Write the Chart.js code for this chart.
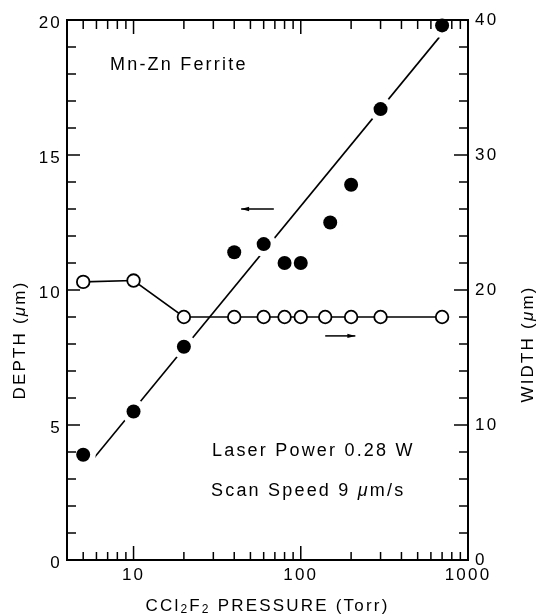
<!DOCTYPE html>
<html><head><meta charset="utf-8">
<script src="https://cdn.jsdelivr.net/npm/chart.js@4"></script>
<style>html,body{margin:0;padding:0;background:#fff}</style>
</head><body><canvas id="c" width="538" height="616"></canvas>
<script>
// ---- data ----
const pressureDepth = [5, 10, 20, 40, 60, 80, 100, 150, 200, 300, 700];
const depthValues   = [3.9, 5.5, 7.9, 11.4, 11.7, 11.0, 11.0, 12.5, 13.9, 16.7, 19.8];
const pressureWidth = [5, 10, 20, 40, 60, 80, 100, 140, 200, 300, 700];
const widthValues   = [20.6, 20.7, 18.0, 18.0, 18.0, 18.0, 18.0, 18.0, 18.0, 18.0, 18.0];
const fitPressure = [5.8, 690];
const fitDepth    = [3.78, 19.44];
const xTickLabels = [10, 100, 1000];
const xMinorTicks = [5,6,7,8,9,20,30,40,50,60,70,80,90,200,300,400,500,600,700,800,900];
const depthMajorTicks = [0,5,10,15,20];
const depthMinorTicks = [1,2,3,4,6,7,8,9,11,12,13,14,16,17,18,19];
const widthMajorTicks = [0,10,20,30,40];
const depthArrow = [69, 44, 13.0];   // tail pressure, head pressure, depth
const widthArrow = [140, 212, 16.6]; // tail pressure, head pressure, width

const FONT = '"Liberation Sans", Arial, Helvetica, sans-serif';
const SP = '2.2px';
const fontOf = p => `${p.italic ? 'italic ' : ''}${p.size}px ${FONT}`;
function richWidth(ctx, parts){ let w = 0; parts.forEach(p => { ctx.font = fontOf(p); w += ctx.measureText(p.t).width; }); return w; }
function richDraw(ctx, parts, x, y){ parts.forEach(p => { ctx.font = fontOf(p); ctx.fillText(p.t, x, y + (p.dy || 0)); x += ctx.measureText(p.t).width; }); }

const spacingPlugin = { id: 'spacing', beforeDraw(chart){ chart.ctx.letterSpacing = SP; } };

const framePlugin = {
  id: 'frame',
  afterDraw(chart){
    const {ctx, chartArea: a, scales: {x, y, y2}} = chart;
    ctx.save();
    ctx.strokeStyle = '#000'; ctx.fillStyle = '#000';
    ctx.lineWidth = 2;
    ctx.strokeRect(a.left, a.top, a.right - a.left, a.bottom - a.top);
    ctx.lineWidth = 1.5;
    const seg = (x1, y1, x2, y2_) => { ctx.beginPath(); ctx.moveTo(x1, y1); ctx.lineTo(x2, y2_); ctx.stroke(); };
    xTickLabels.forEach(v => { const p = x.getPixelForValue(v); if (p < a.right - 2) { seg(p, a.bottom, p, a.bottom - 14); seg(p, a.top, p, a.top + 14); } });
    xMinorTicks.forEach(v => { const p = x.getPixelForValue(v); seg(p, a.bottom, p, a.bottom - 8); seg(p, a.top, p, a.top + 9); });
    depthMajorTicks.forEach(v => { const p = y.getPixelForValue(v); seg(a.left, p, a.left + 13, p); });
    depthMinorTicks.forEach(v => { const p = y.getPixelForValue(v); seg(a.left, p, a.left + 9, p); seg(a.right, p, a.right - 9, p); });
    widthMajorTicks.forEach(v => { const p = y2.getPixelForValue(v); seg(a.right, p, a.right - 14, p); });

    // arrows
    const arrow = (x1, x2, py) => {
      ctx.lineWidth = 1.5; seg(x1, py, x2, py);
      const d = Math.sign(x2 - x1);
      ctx.beginPath(); ctx.moveTo(x2, py); ctx.lineTo(x2 - d * 8, py - 2.2); ctx.lineTo(x2 - d * 8, py + 2.2); ctx.closePath(); ctx.fill();
    };
    arrow(x.getPixelForValue(depthArrow[0]), x.getPixelForValue(depthArrow[1]), y.getPixelForValue(depthArrow[2]));
    arrow(x.getPixelForValue(widthArrow[0]), x.getPixelForValue(widthArrow[1]), y2.getPixelForValue(widthArrow[2]));

    // texts
    ctx.letterSpacing = SP;
    ctx.textAlign = 'left'; ctx.textBaseline = 'alphabetic';
    richDraw(ctx, [{t: 'Mn-Zn Ferrite', size: 18}], a.left + 43, a.top + 50);
    richDraw(ctx, [{t: 'Laser Power 0.28 W', size: 18}], a.left + 145, a.top + 436);
    richDraw(ctx, [{t: 'Scan Speed 9 ', size: 18}, {t: 'μ', size: 18, italic: true}, {t: 'm/s', size: 18}], a.left + 144, a.top + 476);

    const xt = [{t: 'CCl', size: 17}, {t: '2', size: 12, dy: 2}, {t: 'F', size: 17}, {t: '2', size: 12, dy: 2}, {t: ' PRESSURE (Torr)', size: 17}];
    richDraw(ctx, xt, (a.left + a.right) / 2 - richWidth(ctx, xt) / 2, 611);

    const yt = [{t: 'DEPTH (', size: 17}, {t: 'μ', size: 17, italic: true}, {t: 'm)', size: 17}];
    ctx.save(); ctx.translate(19, 340); ctx.rotate(-Math.PI / 2);
    richDraw(ctx, yt, -richWidth(ctx, yt) / 2, 6); ctx.restore();
    const wt = [{t: 'WIDTH (', size: 17}, {t: 'μ', size: 17, italic: true}, {t: 'm)', size: 17}];
    ctx.save(); ctx.translate(526.5, 344); ctx.rotate(-Math.PI / 2);
    richDraw(ctx, wt, -richWidth(ctx, wt) / 2, 6); ctx.restore();
    ctx.restore();
  }
};

const tickFont = {family: FONT, size: 17};
const depthPoints = pressureDepth.map((p, i) => ({x: p, y: depthValues[i]}));
new Chart(document.getElementById('c'), {
  type: 'scatter',
  data: {
    datasets: [
      { label: 'depth', yAxisID: 'y', order: 0, clip: false, showLine: false,
        data: depthPoints,
        pointRadius: 7, pointBackgroundColor: '#000', pointBorderWidth: 0, pointHoverRadius: 7 },
      { label: 'depth-gap', yAxisID: 'y', order: 1, clip: false, showLine: false,
        data: depthPoints,
        pointRadius: 12.5, pointBackgroundColor: '#fff', pointBorderWidth: 0, pointHoverRadius: 12.5 },
      { label: 'fit', yAxisID: 'y', order: 2, showLine: true,
        data: fitPressure.map((p, i) => ({x: p, y: fitDepth[i]})),
        borderColor: '#000', borderWidth: 1.6, pointRadius: 0 },
      { label: 'width', yAxisID: 'y2', order: 3, clip: false, showLine: true,
        data: pressureWidth.map((p, i) => ({x: p, y: widthValues[i]})),
        borderColor: '#000', borderWidth: 1.6, pointRadius: 6.3, pointBackgroundColor: '#fff',
        pointBorderColor: '#000', pointBorderWidth: 1.8 }
    ]
  },
  options: {
    responsive: false, animation: false, events: [],
    layout: {padding: {top: 20, left: 0, right: 0, bottom: 0}},
    plugins: {legend: {display: false}, tooltip: {enabled: false}},
    scales: {
      x: { type: 'logarithmic', position: 'bottom', min: 4, max: 1000,
        grid: {display: false, drawTicks: false}, border: {display: false},
        afterBuildTicks: s => { s.ticks = xTickLabels.map(v => ({value: v})); },
        afterFit: s => { s.height = 56; },
        ticks: {font: tickFont, color: '#000', padding: 5, maxRotation: 0, autoSkip: false, callback: v => String(v)} },
      y: { type: 'linear', position: 'left', min: 0, max: 20,
        grid: {display: false, drawTicks: false}, border: {display: false},
        afterFit: s => { s.width = 67; },
        afterBuildTicks: s => { s.ticks = depthMajorTicks.map(v => ({value: v})); },
        ticks: {font: tickFont, color: '#000', padding: 5, labelOffset: 3} },
      y2: { type: 'linear', position: 'right', min: 0, max: 40,
        grid: {display: false, drawTicks: false}, border: {display: false},
        afterFit: s => { s.width = 70; },
        afterBuildTicks: s => { s.ticks = widthMajorTicks.map(v => ({value: v})); },
        ticks: {font: tickFont, color: '#000', padding: 7} }
    }
  },
  plugins: [spacingPlugin, framePlugin]
});
</script>
</body></html>
